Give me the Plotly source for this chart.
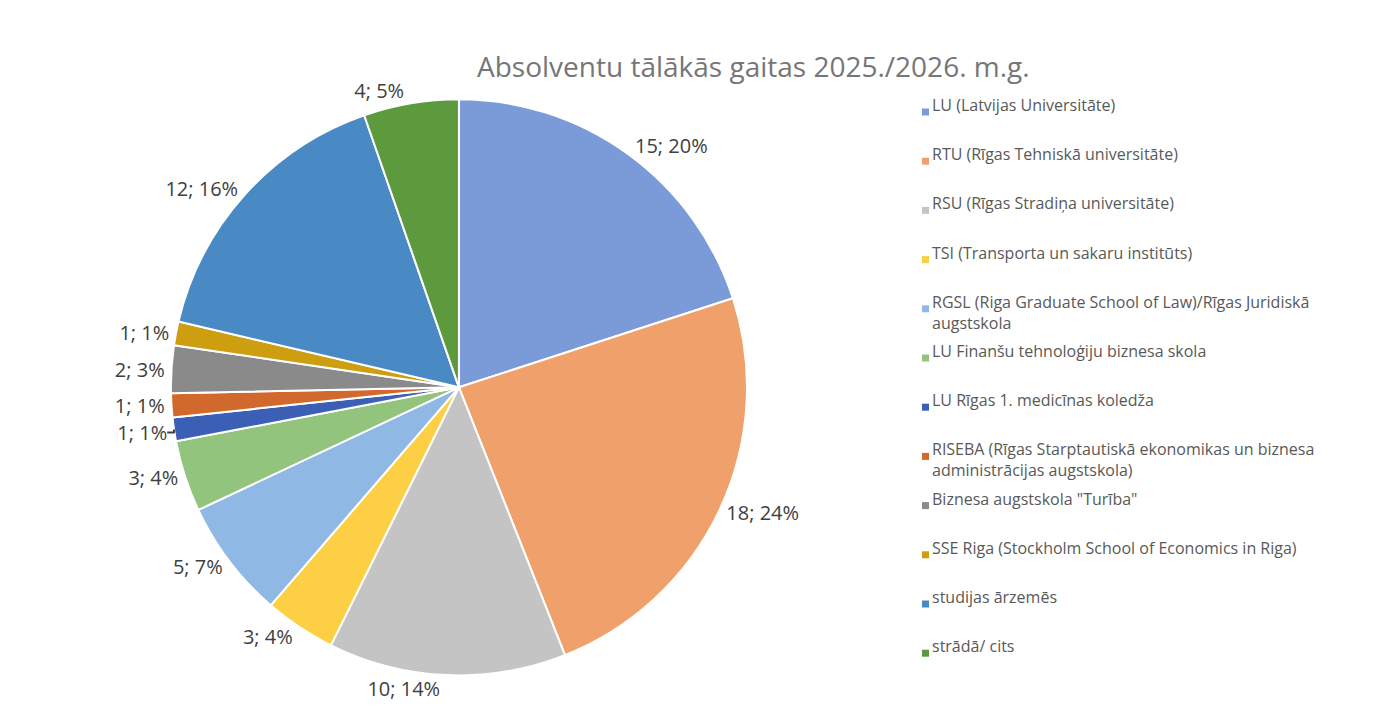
import plotly.graph_objects as go

labels = ["LU (Latvijas Universitāte)", "RTU (Rīgas Tehniskā universitāte)", "RSU (Rīgas Stradiņa universitāte)",
          "TSI (Transporta un sakaru institūts)", "RGSL (Riga Graduate School of Law)/Rīgas Juridiskā<br>augstskola",
          "LU Finanšu tehnoloģiju biznesa skola", "LU Rīgas 1. medicīnas koledža",
          "RISEBA (Rīgas Starptautiskā ekonomikas un biznesa<br>administrācijas augstskola)", "Biznesa augstskola \"Turība\"",
          "SSE Riga (Stockholm School of Economics in Riga)", "studijas ārzemēs", "strādā/ cits"]
values = [15, 18, 10, 3, 5, 3, 1, 1, 2, 1, 12, 4]
pct_labels = ["20%", "24%", "14%", "4%", "7%", "4%", "1%", "1%", "3%", "1%", "16%", "5%"]
colors = ["#7a9ad8", "#f0a06a", "#c4c4c4", "#fdcf45", "#8fb8e4", "#93c47d", "#3b5fb5", "#d2692c",
          "#8a8a8a", "#cc9e10", "#4a8ac4", "#5d9a3e"]

fig = go.Figure(go.Pie(
    labels=labels, values=values, sort=False, direction="clockwise", rotation=0,
    marker=dict(colors=colors, line=dict(color="white", width=2)),
    text=[f"{v}; {p}" for v, p in zip(values, pct_labels)], textinfo="text",
    textposition="outside", textfont=dict(size=20, color="#404040", family="Open Sans"),
    domain=dict(x=[0.118, 0.536], y=[0.064, 0.872]), showlegend=False, hoverinfo="label+value"))

annotations = [dict(text="Absolventu tālākās gaitas 2025./2026. m.g.", x=745/1379, y=1-58/713,
                    xref="paper", yref="paper", showarrow=False, xanchor="center", yanchor="middle",
                    font=dict(size=28, color="#767676", family="Open Sans"))]
shapes = []
for i, (lab, c) in enumerate(zip(labels, colors)):
    yc = 104 + i * 49.2
    annotations.append(dict(text=lab, x=922/1379, y=1-(yc-20)/713, xref="paper", yref="paper",
                            showarrow=False, xanchor="left", yanchor="top", align="left",
                            font=dict(size=16, color="#595959", family="Open Sans")))
    shapes.append(dict(type="rect", xref="paper", yref="paper", x0=914/1379, x1=921/1379,
                       y0=1-(yc+3.5)/713, y1=1-(yc-3.5)/713, fillcolor=c, line=dict(width=0)))

fig.update_layout(width=1379, height=713, margin=dict(l=0, r=0, t=0, b=0),
                  paper_bgcolor="white", annotations=annotations, shapes=shapes)
fig.write_html("out.html")
